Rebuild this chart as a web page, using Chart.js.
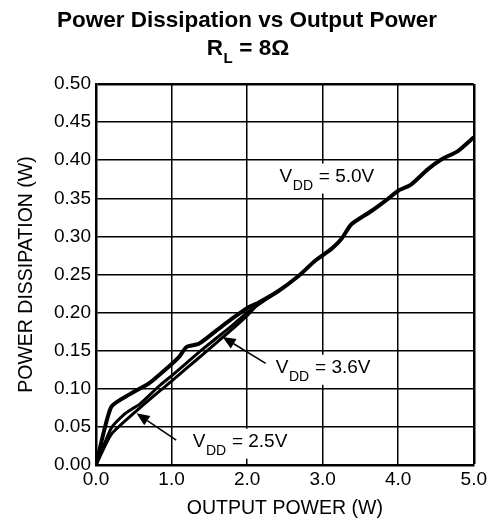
<!DOCTYPE html>
<html lang="en">
<head>
    <meta charset="UTF-8">
    <title>Power Dissipation vs Output Power</title>
    <script src="https://cdn.jsdelivr.net/npm/chart.js"></script>
    <style>
        html, body { margin: 0; padding: 0; background: #fff; }
        #chart { display: block; }
    </style>
</head>
<body>
    <canvas id="chart" width="490" height="523"></canvas>
    <script>
        // Curve data (output power W, dissipation W)
        const outPower50 = [0, 0.2, 0.45, 0.7, 0.95, 1.1, 1.2, 1.36, 1.6, 1.8, 2.02, 2.15, 2.41, 2.68, 2.9, 3.12, 3.25, 3.38, 3.64, 3.86, 4.0, 4.17, 4.39, 4.57, 4.79, 5.0];
        const dissip50   = [0, 0.076, 0.093, 0.107, 0.128, 0.142, 0.155, 0.159, 0.177, 0.192, 0.207, 0.213, 0.228, 0.248, 0.268, 0.284, 0.297, 0.316, 0.333, 0.349, 0.36, 0.368, 0.388, 0.401, 0.412, 0.43];

        const outPower36 = [0, 0.2, 0.38, 0.5, 0.58, 0.84, 1.0, 1.2, 1.4, 1.6, 1.8, 2.0, 2.2, 2.41];
        const dissip36   = [0, 0.048, 0.067, 0.075, 0.08, 0.104, 0.117, 0.134, 0.151, 0.167, 0.183, 0.2, 0.214, 0.228];

        const outPower25 = [0, 0.2, 0.5, 0.84, 1.0, 1.2, 1.4, 1.6, 1.8, 2.0, 2.15];
        const dissip25   = [0, 0.04, 0.068, 0.097, 0.11, 0.127, 0.144, 0.161, 0.178, 0.196, 0.212];

        const xTicks = [0, 1, 2, 3, 4, 5];
        const yTicks = [0, 0.05, 0.1, 0.15, 0.2, 0.25, 0.3, 0.35, 0.4, 0.45, 0.5];

        // Curve labels and arrows, placed in data units
        const curveLabels = [
            { main: 'V', sub: 'DD', rest: ' = 5.0V', x: 2.43, y: 0.372 },
            { main: 'V', sub: 'DD', rest: ' = 3.6V', x: 2.38, y: 0.121 },
            { main: 'V', sub: 'DD', rest: ' = 2.5V', x: 1.28, y: 0.024 }
        ];
        const arrows = [
            { from: [2.246, 0.1335], to: [1.675, 0.168] },
            { from: [1.062, 0.0328], to: [0.536, 0.0678] }
        ];

        const FONT = '"Liberation Sans", Arial, sans-serif';

        function toPoints(xs, ys) {
            return xs.map((x, i) => ({ x: x, y: ys[i] }));
        }

        // Title + annotations drawn on top of the chart
        const extrasPlugin = {
            id: 'extras',
            afterDraw(chart) {
                const ctx = chart.ctx;
                const xs = chart.scales.x, ys = chart.scales.y;
                ctx.save();
                ctx.fillStyle = '#000';
                ctx.textBaseline = 'alphabetic';

                // title line 1
                ctx.font = 'bold 22.5px ' + FONT;
                ctx.textAlign = 'center';
                ctx.fillText('Power Dissipation vs Output Power', 247, 27);

                // title line 2 with subscript
                ctx.textAlign = 'left';
                const bigF = 'bold 22.5px ' + FONT, subF = 'bold 15px ' + FONT;
                ctx.font = bigF;
                const wR = ctx.measureText('R').width;
                const wRest = ctx.measureText(' = 8\u03A9').width;
                ctx.font = subF;
                const wL = ctx.measureText('L').width;
                let x0 = 248 - (wR + wL + 1 + wRest) / 2;
                ctx.font = bigF;
                ctx.fillText('R', x0, 55);
                ctx.font = subF;
                ctx.fillText('L', x0 + wR + 0.5, 63);
                ctx.font = bigF;
                ctx.fillText(' = 8\u03A9', x0 + wR + wL + 1, 55);

                // curve labels with white boxes
                const mainF = '19px ' + FONT, sF = '14px ' + FONT;
                curveLabels.forEach(l => {
                    const px = xs.getPixelForValue(l.x);
                    const py = ys.getPixelForValue(l.y);
                    ctx.font = mainF;
                    const w1 = ctx.measureText(l.main).width;
                    const w3 = ctx.measureText(l.rest).width;
                    ctx.font = sF;
                    const w2 = ctx.measureText(l.sub).width;
                    ctx.fillStyle = '#fff';
                    ctx.fillRect(px - 3, py - 18, w1 + w2 + w3 + 7, 30);
                    ctx.fillStyle = '#000';
                    ctx.font = mainF;
                    ctx.fillText(l.main, px, py);
                    ctx.font = sF;
                    ctx.fillText(l.sub, px + w1 + 0.5, py + 8);
                    ctx.font = mainF;
                    ctx.fillText(l.rest, px + w1 + w2 + 1, py);
                });

                // arrows
                ctx.strokeStyle = '#000';
                ctx.lineWidth = 1.5;
                arrows.forEach(a => {
                    const x1 = xs.getPixelForValue(a.from[0]), y1 = ys.getPixelForValue(a.from[1]);
                    const x2 = xs.getPixelForValue(a.to[0]), y2 = ys.getPixelForValue(a.to[1]);
                    const ang = Math.atan2(y2 - y1, x2 - x1);
                    const len = 13, half = 5.5;
                    const bx = x2 - len * Math.cos(ang), by = y2 - len * Math.sin(ang);
                    ctx.beginPath();
                    ctx.moveTo(x1, y1);
                    ctx.lineTo(bx, by);
                    ctx.stroke();
                    ctx.beginPath();
                    ctx.moveTo(x2, y2);
                    ctx.lineTo(bx + half * Math.sin(ang), by - half * Math.cos(ang));
                    ctx.lineTo(bx - half * Math.sin(ang), by + half * Math.cos(ang));
                    ctx.closePath();
                    ctx.fill();
                });
                ctx.restore();
            }
        };

        const lineStyle = {
            borderColor: '#000',
            backgroundColor: '#000',
            pointRadius: 0,
            fill: false,
            tension: 0.2
        };

        new Chart(document.getElementById('chart'), {
            type: 'line',
            data: {
                datasets: [
                    Object.assign({ label: 'VDD = 2.5V', data: toPoints(outPower25, dissip25), borderWidth: 3 }, lineStyle),
                    Object.assign({ label: 'VDD = 3.6V', data: toPoints(outPower36, dissip36), borderWidth: 3 }, lineStyle),
                    Object.assign({ label: 'VDD = 5.0V', data: toPoints(outPower50, dissip50), borderWidth: 4 }, lineStyle)
                ]
            },
            options: {
                responsive: false,
                animation: false,
                layout: { padding: { top: 84, right: 14, left: 0, bottom: 0 } },
                plugins: {
                    legend: { display: false },
                    tooltip: { enabled: false }
                },
                scales: {
                    x: {
                        type: 'linear',
                        min: 0,
                        max: 5,
                        afterFit: s => { s.height = 58; },
                        afterBuildTicks: s => { s.ticks = xTicks.map(v => ({ value: v })); },
                        ticks: {
                            color: '#000',
                            font: { family: FONT, size: 19 },
                            padding: 3,
                            callback: v => v.toFixed(1)
                        },
                        grid: {
                            color: '#000',
                            drawTicks: false,
                            lineWidth: c => (c.tick && c.tick.value === 5 ? 2.5 : 1.5)
                        },
                        border: { color: '#000', width: 2.5 },
                        title: {
                            display: true,
                            text: 'OUTPUT POWER (W)',
                            color: '#000',
                            font: { family: FONT, size: 19.5 },
                            padding: { top: 0, bottom: 3 }
                        }
                    },
                    y: {
                        type: 'linear',
                        min: 0,
                        max: 0.5,
                        afterFit: s => { s.width = 96; },
                        afterBuildTicks: s => { s.ticks = yTicks.map(v => ({ value: v })); },
                        ticks: {
                            color: '#000',
                            font: { family: FONT, size: 19 },
                            padding: 5,
                            callback: v => v.toFixed(2)
                        },
                        grid: {
                            color: '#000',
                            drawTicks: false,
                            lineWidth: c => (c.tick && c.tick.value === 0.5 ? 2.5 : 1.5)
                        },
                        border: { color: '#000', width: 2.5 },
                        title: {
                            display: true,
                            text: 'POWER DISSIPATION (W)',
                            color: '#000',
                            font: { family: FONT, size: 19.5 },
                            padding: { top: 15, bottom: 0 }
                        }
                    }
                }
            },
            plugins: [extrasPlugin]
        });
    </script>
</body>
</html>
